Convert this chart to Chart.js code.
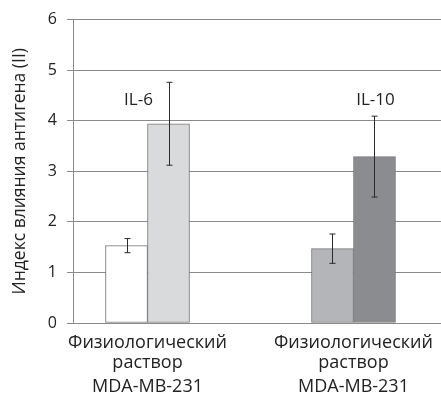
<!DOCTYPE html>
<html>
<head>
<meta charset="utf-8">
<script src="https://cdn.jsdelivr.net/npm/chart.js@4"></script>
<style>
  html, body { margin: 0; padding: 0; background: #fff; }
  #wrap { width: 441px; height: 397px; }
</style>
</head>
<body>
<div id="wrap"><canvas id="chart" width="441" height="397"></canvas></div>
<script>
// Data
const groups = ['Физиологический раствор', 'Физиологический раствор'];
const cellLines = ['MDA-MB-231', 'MDA-MB-231'];
const yTicks = [0, 1, 2, 3, 4, 5, 6];

const ctrlIL6 = [1.53, null];
const ctrlIL6Err = [0.14, null];
const antIL6 = [3.94, null];
const antIL6Err = [0.82, null];
const ctrlIL10 = [null, 1.47];
const ctrlIL10Err = [null, 0.29];
const antIL10 = [null, 3.29];
const antIL10Err = [null, 0.80];

const markerLabels = ['IL-6', 'IL-10'];
const markerLevel = 4.4;

const FONT = '"Open Sans", "Noto Sans", sans-serif';
const TEXT = '#222';
const LINE = '#8a8a8a';

const toPoints = vals => vals.map((v, i) => ({ x: i, y: v }));

function makeSet(vals, errs, fill) {
    return {
        data: toPoints(vals),
        errors: errs,
        backgroundColor: fill,
        borderColor: '#777',
        borderWidth: 1,
        borderSkipped: false,
        barThickness: 42
    };
}

// error bars drawn on top of each bar
const errorBars = {
    id: 'errorBars',
    afterDatasetsDraw(chart) {
        const { ctx, scales: { y } } = chart;
        ctx.save();
        ctx.strokeStyle = '#2a2a2a';
        ctx.lineWidth = 1;
        chart.data.datasets.forEach((ds, di) => {
            const meta = chart.getDatasetMeta(di);
            meta.data.forEach((bar, i) => {
                const v = ds.data[i].y;
                const e = ds.errors[i];
                if (v == null || e == null) return;
                const x = Math.round(bar.x) + 0.5;
                const top = y.getPixelForValue(v + e);
                const bot = y.getPixelForValue(v - e);
                ctx.beginPath();
                ctx.moveTo(x, top); ctx.lineTo(x, bot);
                ctx.moveTo(x - 3, top); ctx.lineTo(x + 3, top);
                ctx.moveTo(x - 3, bot); ctx.lineTo(x + 3, bot);
                ctx.stroke();
            });
        });
        ctx.restore();
    }
};

// "IL-6" / "IL-10" text above each group
const markers = {
    id: 'markers',
    afterDatasetsDraw(chart, args, opts) {
        const { ctx, scales: { x, y } } = chart;
        ctx.save();
        ctx.font = '17px ' + FONT;
        ctx.fillStyle = TEXT;
        ctx.textAlign = 'center';
        ctx.textBaseline = 'middle';
        markerLabels.forEach((txt, i) => {
            ctx.fillText(txt, x.getPixelForValue(i) + opts.dx[i], y.getPixelForValue(markerLevel));
        });
        ctx.restore();
    }
};

const xRange = { min: -0.3617, max: 1.4248 };
const groupTicks = scale => { scale.ticks = groups.map((g, i) => ({ value: i })); };

new Chart(document.getElementById('chart'), {
    type: 'bar',
    data: {
        datasets: [
            makeSet(ctrlIL6, ctrlIL6Err, '#ffffff'),
            makeSet(antIL6, antIL6Err, '#d9dadc'),
            makeSet(ctrlIL10, ctrlIL10Err, '#b4b5b8'),
            makeSet(antIL10, antIL10Err, '#8b8c8f')
        ]
    },
    options: {
        responsive: false,
        animation: false,
        skipNull: true,
        layout: { padding: { top: 18, right: 0, left: 0, bottom: 0 } },
        plugins: {
            legend: { display: false },
            tooltip: { enabled: false },
            markers: { dx: [-9, 22] }
        },
        scales: {
            x: {
                type: 'linear',
                position: 'bottom',
                offset: false,
                min: xRange.min,
                max: xRange.max,
                afterBuildTicks: groupTicks,
                afterFit: s => { s.height = 52; },
                grid: { display: false, tickLength: 7 },
                border: { display: true, color: LINE, width: 1 },
                ticks: {
                    maxRotation: 0,
                    autoSkip: false,
                    padding: 3,
                    color: TEXT,
                    font: { family: FONT, size: 18, lineHeight: 1.1 },
                    callback: v => groups[v] ? groups[v].split(' ') : ''
                }
            },
            x2: {
                type: 'linear',
                position: 'bottom',
                offset: false,
                min: xRange.min,
                max: xRange.max,
                afterBuildTicks: groupTicks,
                afterFit: s => { s.height = 22; },
                grid: { display: false, drawTicks: false },
                border: { display: false },
                ticks: {
                    maxRotation: 0,
                    autoSkip: false,
                    padding: 1,
                    color: TEXT,
                    font: { family: FONT, size: 18, lineHeight: 1.2 },
                    callback: v => cellLines[v] || ''
                }
            },
            y: {
                min: 0,
                max: 6,
                afterBuildTicks: s => { s.ticks = yTicks.map(v => ({ value: v })); },
                afterFit: s => { s.width = 73; },
                grid: { color: LINE, lineWidth: 1, tickLength: 6 },
                border: { display: true, color: LINE, width: 1 },
                ticks: {
                    padding: 10,
                    color: TEXT,
                    font: { family: FONT, size: 16 }
                },
                title: {
                    display: true,
                    text: 'Индекс влияния антигена (II)',
                    color: TEXT,
                    font: { family: FONT, size: 17.5 },
                    padding: { top: 10, bottom: 0 }
                }
            }
        }
    },
    plugins: [errorBars, markers]
});
</script>
</body>
</html>
